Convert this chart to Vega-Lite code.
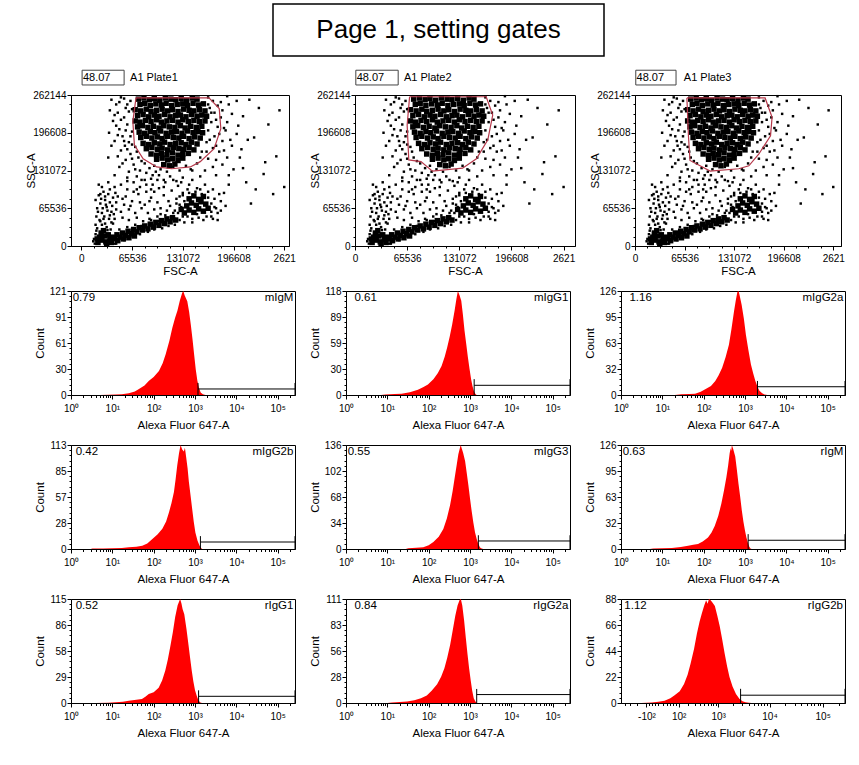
{
"$schema": "https://vega.github.io/schema/vega-lite/v6.json",
"background": "white",
"padding": {"left": 24, "top": 3, "right": 5, "bottom": 5},
"config": {
 "font": "Liberation Sans Narrow, Liberation Sans, Arial, sans-serif",
 "view": {"stroke": "black", "strokeWidth": 1},
 "axis": {"grid": false, "domainColor": "black", "tickColor": "black", "labelColor": "black", "titleColor": "black", "labelFontSize": 10, "titleFontSize": 11.5, "titleFontWeight": "normal", "domainWidth": 1, "tickWidth": 1, "labelPadding": 1, "titlePadding": 1},
 "axisX": {"labelPadding": 4, "titlePadding": 6},
 "text": {"fontSize": 11.5, "color": "black"},
 "rule": {"color": "black"}
},
"datasets": {
 "core": [
  {"f":72,"s":249},{"f":79,"s":251},{"f":86,"s":248},{"f":92,"s":250},{"f":99,"s":247},{"f":106,"s":251},{"f":113,"s":249},{"f":119,"s":248},{"f":126,"s":250},{"f":133,"s":247},{"f":140,"s":251},{"f":146,"s":249},
  {"f":74,"s":240},{"f":80,"s":242},{"f":87,"s":238},{"f":94,"s":241},{"f":101,"s":239},{"f":107,"s":242},{"f":114,"s":238},{"f":121,"s":240},{"f":128,"s":241},{"f":134,"s":238},{"f":141,"s":242},{"f":148,"s":239},{"f":154,"s":241},
  {"f":68,"s":231},{"f":75,"s":229},{"f":82,"s":232},{"f":88,"s":228},{"f":95,"s":230},{"f":102,"s":232},{"f":109,"s":229},{"f":115,"s":231},{"f":122,"s":228},{"f":129,"s":232},{"f":136,"s":230},{"f":142,"s":229},{"f":149,"s":231},{"f":156,"s":229},
  {"f":71,"s":221},{"f":78,"s":223},{"f":85,"s":219},{"f":92,"s":222},{"f":98,"s":220},{"f":105,"s":223},{"f":112,"s":219},{"f":119,"s":221},{"f":125,"s":222},{"f":132,"s":219},{"f":139,"s":223},{"f":146,"s":220},{"f":152,"s":222},{"f":158,"s":220},
  {"f":68,"s":212},{"f":74,"s":210},{"f":81,"s":213},{"f":88,"s":211},{"f":95,"s":214},{"f":101,"s":210},{"f":108,"s":212},{"f":115,"s":213},{"f":122,"s":210},{"f":128,"s":214},{"f":135,"s":211},{"f":142,"s":213},{"f":149,"s":211},{"f":156,"s":212},
  {"f":71,"s":202},{"f":77,"s":204},{"f":84,"s":201},{"f":91,"s":203},{"f":98,"s":200},{"f":104,"s":204},{"f":111,"s":202},{"f":118,"s":201},{"f":125,"s":204},{"f":131,"s":200},{"f":138,"s":203},{"f":145,"s":201},{"f":152,"s":203},
  {"f":73,"s":193},{"f":80,"s":191},{"f":87,"s":194},{"f":93,"s":192},{"f":100,"s":195},{"f":107,"s":191},{"f":114,"s":193},{"f":120,"s":194},{"f":127,"s":191},{"f":134,"s":195},{"f":141,"s":192},{"f":147,"s":194},{"f":153,"s":192},
  {"f":75,"s":184},{"f":82,"s":186},{"f":89,"s":183},{"f":96,"s":185},{"f":102,"s":182},{"f":109,"s":186},{"f":116,"s":184},{"f":123,"s":183},{"f":129,"s":186},{"f":136,"s":182},{"f":143,"s":185},{"f":150,"s":183},
  {"f":78,"s":174},{"f":85,"s":172},{"f":92,"s":175},{"f":99,"s":173},{"f":105,"s":176},{"f":112,"s":172},{"f":119,"s":174},{"f":126,"s":175},{"f":132,"s":172},{"f":139,"s":176},{"f":146,"s":173},
  {"f":82,"s":165},{"f":89,"s":167},{"f":96,"s":164},{"f":102,"s":166},{"f":109,"s":163},{"f":116,"s":167},{"f":123,"s":165},{"f":129,"s":164},{"f":136,"s":167},{"f":142,"s":163},
  {"f":88,"s":156},{"f":95,"s":154},{"f":101,"s":157},{"f":108,"s":155},{"f":115,"s":158},{"f":122,"s":154},{"f":128,"s":156},{"f":135,"s":157},
  {"f":95,"s":147},{"f":102,"s":149},{"f":109,"s":146},{"f":115,"s":148},{"f":122,"s":145},{"f":128,"s":149},
  {"f":104,"s":138},{"f":111,"s":136},{"f":118,"s":139},
  {"f":21,"s":6},{"f":26,"s":10},{"f":31,"s":7},{"f":36,"s":11},{"f":23,"s":15},{"f":29,"s":17},{"f":34,"s":19},{"f":39,"s":15},{"f":25,"s":22},{"f":20,"s":12},{"f":32,"s":3},{"f":38,"s":6},{"f":28,"s":26},
  {"f":42,"s":12},{"f":49,"s":15},{"f":56,"s":18},{"f":63,"s":21},{"f":70,"s":24},{"f":77,"s":27},{"f":84,"s":29},{"f":91,"s":32},{"f":98,"s":35},{"f":105,"s":38},{"f":112,"s":41},{"f":119,"s":44},
  {"f":45,"s":19},{"f":52,"s":22},{"f":59,"s":25},{"f":66,"s":28},{"f":73,"s":31},{"f":80,"s":34},{"f":87,"s":37},{"f":94,"s":40},{"f":101,"s":43},{"f":108,"s":46},{"f":115,"s":48},
  {"f":46,"s":9},{"f":53,"s":12},{"f":60,"s":14},{"f":67,"s":17},
  {"f":130,"s":56},{"f":136,"s":61},{"f":142,"s":57},{"f":148,"s":63},{"f":154,"s":59},{"f":133,"s":68},{"f":139,"s":73},{"f":145,"s":69},{"f":151,"s":75},{"f":157,"s":71},{"f":136,"s":80},{"f":142,"s":85},{"f":148,"s":79},{"f":160,"s":64},{"f":126,"s":62},{"f":154,"s":84}
 ],
 "dots": [
  {"f":38,"s":248},{"f":44,"s":240},{"f":50,"s":252},{"f":56,"s":234},{"f":62,"s":246},{"f":46,"s":226},{"f":54,"s":218},{"f":60,"s":228},{"f":40,"s":212},{"f":58,"s":206},{"f":48,"s":198},{"f":64,"s":194},{"f":52,"s":186},{"f":42,"s":178},{"f":60,"s":176},{"f":68,"s":168},{"f":50,"s":162},{"f":62,"s":156},{"f":72,"s":150},{"f":56,"s":146},{"f":66,"s":138},{"f":80,"s":140},{"f":74,"s":128},{"f":60,"s":126},{"f":86,"s":132},{"f":48,"s":134},{"f":70,"s":118},{"f":90,"s":120},{"f":35,"s":192},{"f":55,"s":170},
  {"f":160,"s":252},{"f":166,"s":246},{"f":172,"s":238},{"f":162,"s":234},{"f":168,"s":226},{"f":176,"s":218},{"f":164,"s":210},{"f":172,"s":202},{"f":182,"s":196},{"f":160,"s":196},{"f":168,"s":186},{"f":178,"s":178},{"f":158,"s":176},{"f":166,"s":166},{"f":152,"s":160},{"f":174,"s":160},{"f":160,"s":148},{"f":146,"s":140},{"f":184,"s":150},{"f":166,"s":134},{"f":190,"s":224},{"f":196,"s":246},{"f":184,"s":254},{"f":156,"s":128},{"f":140,"s":128},{"f":198,"s":204},{"f":188,"s":180},{"f":202,"s":164},{"f":176,"s":244},{"f":184,"s":210},
  {"f":92,"s":136},{"f":100,"s":130},{"f":108,"s":126},{"f":116,"s":134},{"f":124,"s":128},{"f":132,"s":136},{"f":138,"s":130},{"f":98,"s":120},{"f":112,"s":118},{"f":128,"s":116},{"f":120,"s":110},{"f":104,"s":112},
  {"f":212,"s":248},{"f":224,"s":234},{"f":236,"s":206},{"f":218,"s":184},{"f":246,"s":152},{"f":230,"s":122},{"f":208,"s":108},{"f":242,"s":88},{"f":214,"s":72},{"f":232,"s":142},{"f":220,"s":96},{"f":204,"s":132},{"f":250,"s":230},{"f":256,"s":100},
  {"f":50,"s":104},{"f":58,"s":96},{"f":66,"s":108},{"f":74,"s":100},{"f":82,"s":92},{"f":90,"s":104},{"f":98,"s":98},{"f":106,"s":108},{"f":114,"s":94},{"f":122,"s":102},{"f":56,"s":84},{"f":64,"s":76},{"f":72,"s":88},{"f":80,"s":70},{"f":88,"s":82},{"f":96,"s":74},{"f":104,"s":86},{"f":112,"s":68},{"f":120,"s":80},{"f":128,"s":90},{"f":60,"s":62},{"f":68,"s":56},{"f":76,"s":64},{"f":84,"s":56},{"f":92,"s":62},{"f":100,"s":54},{"f":108,"s":60},{"f":116,"s":56},{"f":54,"s":70},{"f":96,"s":112},{"f":80,"s":112},{"f":136,"s":104},{"f":146,"s":98},{"f":156,"s":104},{"f":166,"s":96},{"f":174,"s":88},{"f":170,"s":64},{"f":176,"s":76},{"f":164,"s":50},{"f":172,"s":44},{"f":182,"s":68},{"f":186,"s":104},
  {"f":20,"s":30},{"f":26,"s":36},{"f":32,"s":32},{"f":38,"s":40},{"f":23,"s":44},{"f":29,"s":50},{"f":35,"s":46},{"f":41,"s":54},{"f":21,"s":58},{"f":27,"s":64},{"f":33,"s":60},{"f":39,"s":68},{"f":24,"s":72},{"f":30,"s":78},{"f":36,"s":74},{"f":22,"s":86},{"f":28,"s":92},{"f":34,"s":88},{"f":40,"s":82},{"f":26,"s":100},{"f":19,"s":50},{"f":37,"s":28},{"f":31,"s":70},{"f":25,"s":80},{"f":44,"s":62},{"f":43,"s":90},
  {"f":124,"s":44},{"f":128,"s":50},{"f":122,"s":56},{"f":126,"s":66},{"f":130,"s":76},{"f":128,"s":86},{"f":136,"s":90},{"f":144,"s":92},{"f":152,"s":88},{"f":160,"s":82},{"f":164,"s":72},{"f":164,"s":58},{"f":158,"s":50},{"f":148,"s":48},{"f":140,"s":46},{"f":134,"s":50},{"f":146,"s":54},{"f":152,"s":80},{"f":168,"s":66},{"f":118,"s":36},{"f":110,"s":34},{"f":102,"s":30},{"f":92,"s":28},{"f":84,"s":24},{"f":74,"s":20},{"f":62,"s":16},{"f":54,"s":10},{"f":44,"s":4},{"f":48,"s":28},{"f":58,"s":32},{"f":68,"s":36},{"f":78,"s":42},{"f":86,"s":46},{"f":96,"s":50},{"f":106,"s":52},{"f":66,"s":30},{"f":76,"s":34},
  {"f":17,"s":4},{"f":16,"s":12},{"f":18,"s":20},{"f":42,"s":4},{"f":44,"s":8},{"f":19,"s":26},{"f":27,"s":28},{"f":33,"s":27},{"f":15,"s":8},
  {"f":36,"s":230},{"f":42,"s":222},{"f":48,"s":244},{"f":54,"s":250},{"f":58,"s":240},{"f":64,"s":232},{"f":44,"s":204},{"f":50,"s":214},{"f":56,"s":196},{"f":62,"s":186},{"f":46,"s":188},{"f":38,"s":170},{"f":54,"s":178},{"f":64,"s":172},{"f":58,"s":164},{"f":46,"s":152},{"f":70,"s":160},{"f":76,"s":144},{"f":64,"s":148},{"f":52,"s":140},{"f":68,"s":130},{"f":82,"s":124},{"f":94,"s":126},{"f":58,"s":116},{"f":76,"s":112},{"f":88,"s":114},{"f":42,"s":120},{"f":34,"s":150},
  {"f":160,"s":240},{"f":164,"s":226},{"f":170,"s":214},{"f":178,"s":230},{"f":186,"s":240},{"f":180,"s":200},{"f":174,"s":190},{"f":162,"s":180},{"f":170,"s":170},{"f":180,"s":162},{"f":190,"s":170},{"f":158,"s":160},{"f":150,"s":150},{"f":170,"s":146},{"f":178,"s":138},{"f":192,"s":130},{"f":196,"s":190},{"f":204,"s":220},{"f":210,"s":180},{"f":200,"s":150},{"f":186,"s":120},{"f":170,"s":120},{"f":150,"s":118},{"f":140,"s":112},
  {"f":18,"s":36},{"f":24,"s":42},{"f":30,"s":38},{"f":36,"s":52},{"f":42,"s":46},{"f":20,"s":64},{"f":26,"s":56},{"f":32,"s":66},{"f":38,"s":58},{"f":44,"s":74},{"f":18,"s":78},{"f":24,"s":88},{"f":30,"s":84},{"f":36,"s":96},{"f":42,"s":100},{"f":22,"s":104},{"f":34,"s":108},{"f":46,"s":84},{"f":28,"s":46},{"f":40,"s":38},
  {"f":52,"s":48},{"f":60,"s":44},{"f":70,"s":48},{"f":88,"s":44},{"f":98,"s":42},{"f":108,"s":44},{"f":118,"s":46},{"f":50,"s":58},{"f":62,"s":68},{"f":74,"s":74},{"f":86,"s":76},{"f":100,"s":64},{"f":110,"s":76},{"f":124,"s":70},{"f":52,"s":80},{"f":66,"s":92},{"f":82,"s":104},{"f":92,"s":92},{"f":104,"s":100},{"f":116,"s":112},{"f":126,"s":108},{"f":58,"s":110},{"f":70,"s":96},{"f":88,"s":96},
  {"f":118,"s":60},{"f":120,"s":72},{"f":124,"s":84},{"f":134,"s":96},{"f":150,"s":96},{"f":160,"s":92},{"f":168,"s":80},{"f":172,"s":56},{"f":166,"s":46},{"f":154,"s":44},{"f":140,"s":40},{"f":130,"s":40},{"f":176,"s":60},{"f":180,"s":90}
 ],
 "h1": [{"x":5,"c":0},{"x":8,"c":0.3},{"x":12,"c":0.5},{"x":17,"c":1},{"x":25,"c":2},{"x":35,"c":4},{"x":44,"c":7},{"x":60,"c":11},{"x":77,"c":16.6},{"x":100,"c":21},{"x":134,"c":28},{"x":165,"c":37},{"x":195,"c":47.5},{"x":240,"c":63},{"x":282,"c":78},{"x":330,"c":90},{"x":375,"c":98},{"x":430,"c":110},{"x":491,"c":119},{"x":520,"c":121},{"x":560,"c":116},{"x":650,"c":109},{"x":720,"c":97},{"x":790,"c":82},{"x":870,"c":65},{"x":950,"c":47.5},{"x":1040,"c":30},{"x":1140,"c":16.6},{"x":1250,"c":8},{"x":1370,"c":3},{"x":1550,"c":1},{"x":1800,"c":0}],
 "h2": [{"x":7,"c":0},{"x":9,"c":0.5},{"x":15,"c":1},{"x":22,"c":1.5},{"x":35,"c":3},{"x":55,"c":6},{"x":75,"c":9},{"x":96,"c":12},{"x":130,"c":18},{"x":167,"c":25},{"x":205,"c":33},{"x":244,"c":43.5},{"x":280,"c":54},{"x":322,"c":66},{"x":370,"c":80},{"x":424,"c":96},{"x":465,"c":108},{"x":508,"c":118},{"x":560,"c":113},{"x":614,"c":107},{"x":670,"c":92},{"x":737,"c":73},{"x":810,"c":58},{"x":885,"c":43.5},{"x":970,"c":30},{"x":1065,"c":17.5},{"x":1150,"c":10},{"x":1240,"c":4.5},{"x":1340,"c":1.5},{"x":1440,"c":0}],
 "h3": [{"x":20,"c":0},{"x":29,"c":1},{"x":45,"c":1.3},{"x":62,"c":1.6},{"x":85,"c":4},{"x":109,"c":7},{"x":150,"c":11},{"x":191,"c":17},{"x":230,"c":24},{"x":280,"c":33},{"x":340,"c":46},{"x":408,"c":61},{"x":470,"c":80},{"x":540,"c":101},{"x":600,"c":115},{"x":655,"c":125},{"x":700,"c":126},{"x":760,"c":118},{"x":830,"c":109},{"x":940,"c":92},{"x":1050,"c":73},{"x":1200,"c":55},{"x":1390,"c":37},{"x":1580,"c":26},{"x":1780,"c":17},{"x":2000,"c":10},{"x":2230,"c":5},{"x":2600,"c":2},{"x":2960,"c":0.5},{"x":3500,"c":0}],
 "h4": [{"x":3,"c":0},{"x":3.3,"c":0.5},{"x":6,"c":0.5},{"x":10,"c":0.7},{"x":17,"c":1.2},{"x":25,"c":1.8},{"x":38,"c":2.5},{"x":53,"c":3.6},{"x":70,"c":6},{"x":93,"c":11},{"x":125,"c":16},{"x":162,"c":22},{"x":200,"c":30},{"x":235,"c":40},{"x":270,"c":50},{"x":309,"c":62},{"x":340,"c":76},{"x":372,"c":91},{"x":410,"c":104},{"x":447,"c":113},{"x":490,"c":108},{"x":537,"c":106},{"x":570,"c":110},{"x":610,"c":100},{"x":660,"c":88},{"x":710,"c":73},{"x":780,"c":58},{"x":851,"c":44},{"x":930,"c":30},{"x":1020,"c":18},{"x":1150,"c":9},{"x":1290,"c":3.6},{"x":1400,"c":1},{"x":1490,"c":0}],
 "h5": [{"x":28,"c":0},{"x":32,"c":1},{"x":50,"c":1.5},{"x":74,"c":2.2},{"x":100,"c":5},{"x":130,"c":9},{"x":175,"c":16},{"x":226,"c":26},{"x":275,"c":40},{"x":328,"c":57},{"x":380,"c":76},{"x":434,"c":96},{"x":480,"c":111},{"x":522,"c":124},{"x":594,"c":136},{"x":680,"c":126},{"x":760,"c":115},{"x":830,"c":100},{"x":910,"c":84},{"x":1000,"c":66},{"x":1100,"c":49},{"x":1200,"c":35},{"x":1320,"c":22},{"x":1450,"c":13},{"x":1590,"c":6.6},{"x":1750,"c":2},{"x":1910,"c":0.5},{"x":2100,"c":0}],
 "h6": [{"x":5,"c":0},{"x":6,"c":0.5},{"x":10,"c":0.8},{"x":17,"c":1.2},{"x":28,"c":2.5},{"x":42,"c":4},{"x":56,"c":5},{"x":73,"c":6},{"x":95,"c":9},{"x":127,"c":14},{"x":155,"c":20},{"x":185,"c":28},{"x":225,"c":40},{"x":268,"c":55},{"x":310,"c":71},{"x":354,"c":87},{"x":390,"c":101},{"x":425,"c":116},{"x":450,"c":122},{"x":465,"c":119},{"x":480,"c":126},{"x":520,"c":121},{"x":580,"c":112},{"x":635,"c":96},{"x":695,"c":79},{"x":765,"c":63},{"x":835,"c":47},{"x":915,"c":33},{"x":1000,"c":22},{"x":1080,"c":14},{"x":1170,"c":8},{"x":1260,"c":3},{"x":1350,"c":0.5},{"x":1450,"c":0}],
 "h7": [{"x":4,"c":0},{"x":8,"c":0.3},{"x":12,"c":0.7},{"x":18,"c":1.5},{"x":25,"c":2.6},{"x":38,"c":3.5},{"x":52,"c":4.4},{"x":63,"c":7},{"x":76,"c":10},{"x":100,"c":12},{"x":132,"c":17},{"x":160,"c":25},{"x":191,"c":36},{"x":220,"c":48},{"x":251,"c":62},{"x":290,"c":78},{"x":331,"c":95},{"x":380,"c":108},{"x":436,"c":115},{"x":470,"c":110},{"x":500,"c":104},{"x":550,"c":98},{"x":620,"c":82},{"x":692,"c":65},{"x":760,"c":50},{"x":832,"c":36},{"x":910,"c":24},{"x":1000,"c":14},{"x":1100,"c":8},{"x":1200,"c":3.3},{"x":1300,"c":1},{"x":1390,"c":0.3},{"x":1500,"c":0}],
 "h8": [{"x":10,"c":0},{"x":13,"c":0.5},{"x":20,"c":1},{"x":30,"c":1.5},{"x":45,"c":3},{"x":65,"c":5},{"x":90,"c":8},{"x":118,"c":13},{"x":160,"c":20},{"x":200,"c":28},{"x":240,"c":37},{"x":280,"c":48},{"x":330,"c":62},{"x":380,"c":77},{"x":440,"c":93},{"x":500,"c":104},{"x":560,"c":110},{"x":600,"c":111},{"x":650,"c":104},{"x":720,"c":88},{"x":790,"c":70},{"x":870,"c":52},{"x":950,"c":37},{"x":1040,"c":24},{"x":1130,"c":13},{"x":1230,"c":5},{"x":1350,"c":1.5},{"x":1450,"c":0}],
 "h9": [{"x":-150,"c":0},{"x":-60,"c":0.5},{"x":-20,"c":1},{"x":9,"c":2},{"x":40,"c":4},{"x":66,"c":6.3},{"x":110,"c":10},{"x":153,"c":16},{"x":195,"c":24},{"x":234,"c":33},{"x":290,"c":46},{"x":342,"c":59},{"x":395,"c":69},{"x":446,"c":76},{"x":500,"c":82},{"x":555,"c":87},{"x":600,"c":84},{"x":640,"c":88},{"x":697,"c":87},{"x":760,"c":85},{"x":856,"c":82},{"x":960,"c":74},{"x":1080,"c":65},{"x":1210,"c":54},{"x":1356,"c":42},{"x":1520,"c":31},{"x":1696,"c":22},{"x":1950,"c":14},{"x":2276,"c":7.7},{"x":2650,"c":3.5},{"x":3050,"c":1.4},{"x":3500,"c":0.6},{"x":4060,"c":0.3},{"x":4600,"c":0}]
},
"spacing": 8,
"vconcat": [
 {"hconcat": [
  {"width": 201, "height": 57, "view": {"stroke": null}, "data": {"values": [{"t": ""}]}, "mark": "text", "encoding": {"text": {"field": "t"}}},
  {"width": 331, "height": 52, "view": {"stroke": "black", "strokeWidth": 1.5, "fill": "white"}, "data": {"values": [{"t": "Page 1, setting gates"}]}, "mark": {"type": "text", "fontSize": 26, "font": "Liberation Sans, Arial, sans-serif"}, "encoding": {"text": {"field": "t"}}}
 ], "spacing": 0},
 {"hconcat": [
  {"width": 218, "height": 151,
   "layer": [
    {"data": {"name": "dots"}, "mark": {"type": "square", "size": 6, "color": "black", "opacity": 1}, "encoding": {
     "x": {"field": "f", "type": "quantitative", "title": "FSC-A", "scale": {"domain": [-13, 262], "nice": false, "zero": false}, "axis": {"values": [0,16,32,48,64,80,96,112,128,144,160,176,192,208,224,240,256], "tickCount": 100, "labelExpr": "datum.value == 0 ? '0' : datum.value == 64 ? '65536' : datum.value == 128 ? '131072' : datum.value == 192 ? '196608' : datum.value == 256 ? '2621' : ''", "tickSize": {"condition": {"test": "datum.value % 64 == 0", "value": 4}, "value": 2}, "labelFlush": false, "labelOverlap": false, "labelPadding": 3, "titlePadding": 2}},
     "y": {"field": "s", "type": "quantitative", "title": "SSC-A", "scale": {"domain": [0, 256], "nice": false}, "axis": {"values": [0,16,32,48,64,80,96,112,128,144,160,176,192,208,224,240,256], "tickCount": 100, "labelExpr": "datum.value == 0 ? '0' : datum.value == 64 ? '65536' : datum.value == 128 ? '131072' : datum.value == 192 ? '196608' : datum.value == 256 ? '262144' : ''", "tickSize": {"condition": {"test": "datum.value % 64 == 0", "value": 4}, "value": 2}, "labelOverlap": false, "minExtent": 35, "maxExtent": 35, "titlePadding": 0}}}},
    {"data": {"name": "core"}, "mark": {"type": "square", "size": 30, "color": "black", "opacity": 1}, "encoding": {"x": {"field": "f", "type": "quantitative", "title": "FSC-A"}, "y": {"field": "s", "type": "quantitative", "title": "SSC-A"}}},
    {"data": {"values": [{"i":0,"f":69,"s":251},{"i":1,"f":161,"s":251},{"i":2,"f":174,"s":233},{"i":3,"f":176,"s":199},{"i":4,"f":167.5,"s":165},{"i":5,"f":150,"s":143},{"i":6,"f":137.6,"s":134},{"i":7,"f":114,"s":131},{"i":8,"f":95,"s":134},{"i":9,"f":78,"s":148},{"i":10,"f":67,"s":171},{"i":11,"f":65,"s":211},{"i":12,"f":69,"s":251}]}, "mark": {"type": "line", "color": "#b5384a", "strokeWidth": 1.2}, "encoding": {"x": {"field": "f", "type": "quantitative", "title": "FSC-A"}, "y": {"field": "s", "type": "quantitative", "title": "SSC-A"}, "order": {"field": "i", "type": "quantitative"}}},
    {"data": {"values": [{"pct": "48.07", "name": "A1 Plate1", "bx1": 1, "bx2": 54, "by1": 273, "by2": 298, "px": 2, "nx": 61.5, "ty": 285.5}]}, "layer": [
     {"mark": {"type": "rect", "fill": "white", "stroke": "#444444", "strokeWidth": 1}, "encoding": {"x": {"field": "bx1", "type": "quantitative", "title": "FSC-A"}, "x2": {"field": "bx2"}, "y": {"field": "by1", "type": "quantitative", "title": "SSC-A"}, "y2": {"field": "by2"}}},
     {"mark": {"type": "text", "align": "left", "fontSize": 11}, "encoding": {"x": {"field": "px", "type": "quantitative", "title": "FSC-A"}, "y": {"field": "ty", "type": "quantitative", "title": "SSC-A"}, "text": {"field": "pct"}}},
     {"mark": {"type": "text", "align": "left", "fontSize": 11}, "encoding": {"x": {"field": "nx", "type": "quantitative", "title": "FSC-A"}, "y": {"field": "ty", "type": "quantitative", "title": "SSC-A"}, "text": {"field": "name"}}}
    ]}
   ]},
  {"width": 220, "height": 151,
   "layer": [
    {"data": {"name": "dots"}, "mark": {"type": "square", "size": 6, "color": "black", "opacity": 1}, "encoding": {
     "x": {"field": "f", "type": "quantitative", "title": "FSC-A", "scale": {"domain": [0, 270], "nice": false, "zero": false}, "axis": {"values": [0,16,32,48,64,80,96,112,128,144,160,176,192,208,224,240,256], "tickCount": 100, "labelExpr": "datum.value == 0 ? '0' : datum.value == 64 ? '65536' : datum.value == 128 ? '131072' : datum.value == 192 ? '196608' : datum.value == 256 ? '2621' : ''", "tickSize": {"condition": {"test": "datum.value % 64 == 0", "value": 4}, "value": 2}, "labelFlush": false, "labelOverlap": false, "labelPadding": 3, "titlePadding": 2}},
     "y": {"field": "s", "type": "quantitative", "title": "SSC-A", "scale": {"domain": [0, 256], "nice": false}, "axis": {"values": [0,16,32,48,64,80,96,112,128,144,160,176,192,208,224,240,256], "tickCount": 100, "labelExpr": "datum.value == 0 ? '0' : datum.value == 64 ? '65536' : datum.value == 128 ? '131072' : datum.value == 192 ? '196608' : datum.value == 256 ? '262144' : ''", "tickSize": {"condition": {"test": "datum.value % 64 == 0", "value": 4}, "value": 2}, "labelOverlap": false, "minExtent": 35, "maxExtent": 35, "titlePadding": 0}}}},
    {"data": {"name": "core"}, "mark": {"type": "square", "size": 30, "color": "black", "opacity": 1}, "encoding": {"x": {"field": "f", "type": "quantitative", "title": "FSC-A"}, "y": {"field": "s", "type": "quantitative", "title": "SSC-A"}}},
    {"data": {"values": [{"i":0,"f":67,"s":253},{"i":1,"f":161,"s":253},{"i":2,"f":169,"s":222},{"i":3,"f":163,"s":180},{"i":4,"f":149,"s":148},{"i":5,"f":132,"s":132},{"i":6,"f":95,"s":127},{"i":7,"f":81,"s":143},{"i":8,"f":66,"s":146},{"i":9,"f":64,"s":205},{"i":10,"f":67,"s":253}]}, "mark": {"type": "line", "color": "#b5384a", "strokeWidth": 1.2}, "encoding": {"x": {"field": "f", "type": "quantitative", "title": "FSC-A"}, "y": {"field": "s", "type": "quantitative", "title": "SSC-A"}, "order": {"field": "i", "type": "quantitative"}}},
    {"data": {"values": [{"pct": "48.07", "name": "A1 Plate2", "bx1": 1, "bx2": 53, "by1": 273, "by2": 298, "px": 2, "nx": 60, "ty": 285.5}]}, "layer": [
     {"mark": {"type": "rect", "fill": "white", "stroke": "#444444", "strokeWidth": 1}, "encoding": {"x": {"field": "bx1", "type": "quantitative", "title": "FSC-A"}, "x2": {"field": "bx2"}, "y": {"field": "by1", "type": "quantitative", "title": "SSC-A"}, "y2": {"field": "by2"}}},
     {"mark": {"type": "text", "align": "left", "fontSize": 11}, "encoding": {"x": {"field": "px", "type": "quantitative", "title": "FSC-A"}, "y": {"field": "ty", "type": "quantitative", "title": "SSC-A"}, "text": {"field": "pct"}}},
     {"mark": {"type": "text", "align": "left", "fontSize": 11}, "encoding": {"x": {"field": "nx", "type": "quantitative", "title": "FSC-A"}, "y": {"field": "ty", "type": "quantitative", "title": "SSC-A"}, "text": {"field": "name"}}}
    ]}
   ]},
  {"width": 206, "height": 151,
   "layer": [
    {"data": {"name": "dots"}, "mark": {"type": "square", "size": 6, "color": "black", "opacity": 1}, "encoding": {
     "x": {"field": "f", "type": "quantitative", "title": "FSC-A", "scale": {"domain": [0, 266], "nice": false, "zero": false}, "axis": {"values": [0,16,32,48,64,80,96,112,128,144,160,176,192,208,224,240,256], "tickCount": 100, "labelExpr": "datum.value == 0 ? '0' : datum.value == 64 ? '65536' : datum.value == 128 ? '131072' : datum.value == 192 ? '196608' : datum.value == 256 ? '2621' : ''", "tickSize": {"condition": {"test": "datum.value % 64 == 0", "value": 4}, "value": 2}, "labelFlush": false, "labelOverlap": false, "labelPadding": 3, "titlePadding": 2}},
     "y": {"field": "s", "type": "quantitative", "title": "SSC-A", "scale": {"domain": [0, 256], "nice": false}, "axis": {"values": [0,16,32,48,64,80,96,112,128,144,160,176,192,208,224,240,256], "tickCount": 100, "labelExpr": "datum.value == 0 ? '0' : datum.value == 64 ? '65536' : datum.value == 128 ? '131072' : datum.value == 192 ? '196608' : datum.value == 256 ? '262144' : ''", "tickSize": {"condition": {"test": "datum.value % 64 == 0", "value": 4}, "value": 2}, "labelOverlap": false, "minExtent": 35, "maxExtent": 35, "titlePadding": 0}}}},
    {"data": {"name": "core"}, "mark": {"type": "square", "size": 30, "color": "black", "opacity": 1}, "encoding": {"x": {"field": "f", "type": "quantitative", "title": "FSC-A"}, "y": {"field": "s", "type": "quantitative", "title": "SSC-A"}}},
    {"data": {"values": [{"i":0,"f":67,"s":251},{"i":1,"f":168,"s":251},{"i":2,"f":177,"s":218},{"i":3,"f":175,"s":187},{"i":4,"f":160,"s":156},{"i":5,"f":147,"s":136},{"i":6,"f":134,"s":131},{"i":7,"f":97,"s":127},{"i":8,"f":84,"s":136},{"i":9,"f":71,"s":145},{"i":10,"f":69,"s":187},{"i":11,"f":67,"s":251}]}, "mark": {"type": "line", "color": "#b5384a", "strokeWidth": 1.2}, "encoding": {"x": {"field": "f", "type": "quantitative", "title": "FSC-A"}, "y": {"field": "s", "type": "quantitative", "title": "SSC-A"}, "order": {"field": "i", "type": "quantitative"}}},
    {"data": {"values": [{"pct": "48.07", "name": "A1 Plate3", "bx1": 1, "bx2": 53, "by1": 273, "by2": 298, "px": 2, "nx": 63, "ty": 285.5}]}, "layer": [
     {"mark": {"type": "rect", "fill": "white", "stroke": "#444444", "strokeWidth": 1}, "encoding": {"x": {"field": "bx1", "type": "quantitative", "title": "FSC-A"}, "x2": {"field": "bx2"}, "y": {"field": "by1", "type": "quantitative", "title": "SSC-A"}, "y2": {"field": "by2"}}},
     {"mark": {"type": "text", "align": "left", "fontSize": 11}, "encoding": {"x": {"field": "px", "type": "quantitative", "title": "FSC-A"}, "y": {"field": "ty", "type": "quantitative", "title": "SSC-A"}, "text": {"field": "pct"}}},
     {"mark": {"type": "text", "align": "left", "fontSize": 11}, "encoding": {"x": {"field": "nx", "type": "quantitative", "title": "FSC-A"}, "y": {"field": "ty", "type": "quantitative", "title": "SSC-A"}, "text": {"field": "name"}}}
    ]}
   ]}
 ], "spacing": 12},
 {"hconcat": [
  {"width": 224, "height": 104, "layer": [
   {"data": {"name": "h1"}, "mark": {"type": "area", "color": "#ff0000"}, "encoding": {
    "x": {"field": "x", "type": "quantitative", "title": "Alexa Fluor 647-A", "scale": {"type": "log", "domain": [1, 262144], "nice": false}, "axis": {"values": [1,2,3,4,5,6,7,8,9,10,20,30,40,50,60,70,80,90,100,200,300,400,500,600,700,800,900,1000,2000,3000,4000,5000,6000,7000,8000,9000,10000,20000,30000,40000,50000,60000,70000,80000,90000,100000,200000], "tickCount": 100, "labelExpr": "datum.value == 1 ? '10⁰' : datum.value == 10 ? '10¹' : datum.value == 100 ? '10²' : datum.value == 1000 ? '10³' : datum.value == 10000 ? '10⁴' : datum.value == 100000 ? '10⁵' : ''", "tickSize": {"condition": {"test": "indexof([1,10,100,1000,10000,100000], datum.value) >= 0", "value": 4}, "value": 2.5}, "labelFlush": false, "labelOverlap": false}},
    "y": {"field": "c", "type": "quantitative", "title": "Count", "scale": {"domain": [0, 121], "nice": false}, "axis": {"values": [0,6.05,12.1,18.15,24.2,30.25,36.3,42.35,48.4,54.45,60.5,66.55,72.6,78.65,84.7,90.75,96.8,102.85,108.9,114.95,121], "tickCount": 100, "labelExpr": "abs(datum.value*4/121 - round(datum.value*4/121)) < 0.01 ? '' + round(datum.value) : ''", "tickSize": {"condition": {"test": "abs(datum.value*4/121 - round(datum.value*4/121)) < 0.01", "value": 4}, "value": 2}, "labelOverlap": false, "minExtent": 24, "maxExtent": 24, "titlePadding": 2}}}},
   {"data": {"values": [{"lo": 1180, "hi": 262144, "bot": 0, "lvl": 7, "top": 14, "xl": 1.1, "xr": 240000, "ty": 113, "pct": "0.79", "name": "mIgM"}]}, "layer": [
    {"mark": "rule", "encoding": {"x": {"field": "lo", "type": "quantitative", "title": "Alexa Fluor 647-A"}, "x2": {"field": "hi"}, "y": {"field": "lvl", "type": "quantitative", "title": "Count"}}},
    {"mark": "rule", "encoding": {"x": {"field": "lo", "type": "quantitative", "title": "Alexa Fluor 647-A"}, "y": {"field": "bot", "type": "quantitative", "title": "Count"}, "y2": {"field": "top"}}},
    {"mark": "rule", "encoding": {"x": {"field": "hi", "type": "quantitative", "title": "Alexa Fluor 647-A"}, "y": {"field": "bot", "type": "quantitative", "title": "Count"}, "y2": {"field": "top"}}},
    {"mark": {"type": "text", "align": "left"}, "encoding": {"x": {"field": "xl", "type": "quantitative", "title": "Alexa Fluor 647-A"}, "y": {"field": "ty", "type": "quantitative", "title": "Count"}, "text": {"field": "pct"}}},
    {"mark": {"type": "text", "align": "right"}, "encoding": {"x": {"field": "xr", "type": "quantitative", "title": "Alexa Fluor 647-A"}, "y": {"field": "ty", "type": "quantitative", "title": "Count"}, "text": {"field": "name"}}}
   ]}
  ]},
  {"width": 224, "height": 104, "layer": [
   {"data": {"name": "h2"}, "mark": {"type": "area", "color": "#ff0000"}, "encoding": {
    "x": {"field": "x", "type": "quantitative", "title": "Alexa Fluor 647-A", "scale": {"type": "log", "domain": [1, 262144], "nice": false}, "axis": {"values": [1,2,3,4,5,6,7,8,9,10,20,30,40,50,60,70,80,90,100,200,300,400,500,600,700,800,900,1000,2000,3000,4000,5000,6000,7000,8000,9000,10000,20000,30000,40000,50000,60000,70000,80000,90000,100000,200000], "tickCount": 100, "labelExpr": "datum.value == 1 ? '10⁰' : datum.value == 10 ? '10¹' : datum.value == 100 ? '10²' : datum.value == 1000 ? '10³' : datum.value == 10000 ? '10⁴' : datum.value == 100000 ? '10⁵' : ''", "tickSize": {"condition": {"test": "indexof([1,10,100,1000,10000,100000], datum.value) >= 0", "value": 4}, "value": 2.5}, "labelFlush": false, "labelOverlap": false}},
    "y": {"field": "c", "type": "quantitative", "title": "Count", "scale": {"domain": [0, 118], "nice": false}, "axis": {"values": [0,5.9,11.8,17.7,23.6,29.5,35.4,41.3,47.2,53.1,59,64.9,70.8,76.7,82.6,88.5,94.4,100.3,106.2,112.1,118], "tickCount": 100, "labelExpr": "abs(datum.value*4/118 - round(datum.value*4/118)) < 0.01 ? '' + round(datum.value) : ''", "tickSize": {"condition": {"test": "abs(datum.value*4/118 - round(datum.value*4/118)) < 0.01", "value": 4}, "value": 2}, "labelOverlap": false, "minExtent": 24, "maxExtent": 24, "titlePadding": 2}}}},
   {"data": {"values": [{"lo": 1260, "hi": 262144, "bot": 0, "lvl": 11, "top": 18, "xl": 1.6, "xr": 240000, "ty": 110, "pct": "0.61", "name": "mIgG1"}]}, "layer": [
    {"mark": "rule", "encoding": {"x": {"field": "lo", "type": "quantitative", "title": "Alexa Fluor 647-A"}, "x2": {"field": "hi"}, "y": {"field": "lvl", "type": "quantitative", "title": "Count"}}},
    {"mark": "rule", "encoding": {"x": {"field": "lo", "type": "quantitative", "title": "Alexa Fluor 647-A"}, "y": {"field": "bot", "type": "quantitative", "title": "Count"}, "y2": {"field": "top"}}},
    {"mark": "rule", "encoding": {"x": {"field": "hi", "type": "quantitative", "title": "Alexa Fluor 647-A"}, "y": {"field": "bot", "type": "quantitative", "title": "Count"}, "y2": {"field": "top"}}},
    {"mark": {"type": "text", "align": "left"}, "encoding": {"x": {"field": "xl", "type": "quantitative", "title": "Alexa Fluor 647-A"}, "y": {"field": "ty", "type": "quantitative", "title": "Count"}, "text": {"field": "pct"}}},
    {"mark": {"type": "text", "align": "right"}, "encoding": {"x": {"field": "xr", "type": "quantitative", "title": "Alexa Fluor 647-A"}, "y": {"field": "ty", "type": "quantitative", "title": "Count"}, "text": {"field": "name"}}}
   ]}
  ]},
  {"width": 224, "height": 104, "layer": [
   {"data": {"name": "h3"}, "mark": {"type": "area", "color": "#ff0000"}, "encoding": {
    "x": {"field": "x", "type": "quantitative", "title": "Alexa Fluor 647-A", "scale": {"type": "log", "domain": [1, 262144], "nice": false}, "axis": {"values": [1,2,3,4,5,6,7,8,9,10,20,30,40,50,60,70,80,90,100,200,300,400,500,600,700,800,900,1000,2000,3000,4000,5000,6000,7000,8000,9000,10000,20000,30000,40000,50000,60000,70000,80000,90000,100000,200000], "tickCount": 100, "labelExpr": "datum.value == 1 ? '10⁰' : datum.value == 10 ? '10¹' : datum.value == 100 ? '10²' : datum.value == 1000 ? '10³' : datum.value == 10000 ? '10⁴' : datum.value == 100000 ? '10⁵' : ''", "tickSize": {"condition": {"test": "indexof([1,10,100,1000,10000,100000], datum.value) >= 0", "value": 4}, "value": 2.5}, "labelFlush": false, "labelOverlap": false}},
    "y": {"field": "c", "type": "quantitative", "title": "Count", "scale": {"domain": [0, 126], "nice": false}, "axis": {"values": [0,6.3,12.6,18.9,25.2,31.5,37.8,44.1,50.4,56.7,63,69.3,75.6,81.9,88.2,94.5,100.8,107.1,113.4,119.7,126], "tickCount": 100, "labelExpr": "abs(datum.value*4/126 - round(datum.value*4/126)) < 0.01 ? '' + round(datum.value) : ''", "tickSize": {"condition": {"test": "abs(datum.value*4/126 - round(datum.value*4/126)) < 0.01", "value": 4}, "value": 2}, "labelOverlap": false, "minExtent": 24, "maxExtent": 24, "titlePadding": 2}}}},
   {"data": {"values": [{"lo": 2000, "hi": 262144, "bot": 0, "lvl": 10, "top": 17, "xl": 1.6, "xr": 240000, "ty": 118, "pct": "1.16", "name": "mIgG2a"}]}, "layer": [
    {"mark": "rule", "encoding": {"x": {"field": "lo", "type": "quantitative", "title": "Alexa Fluor 647-A"}, "x2": {"field": "hi"}, "y": {"field": "lvl", "type": "quantitative", "title": "Count"}}},
    {"mark": "rule", "encoding": {"x": {"field": "lo", "type": "quantitative", "title": "Alexa Fluor 647-A"}, "y": {"field": "bot", "type": "quantitative", "title": "Count"}, "y2": {"field": "top"}}},
    {"mark": "rule", "encoding": {"x": {"field": "hi", "type": "quantitative", "title": "Alexa Fluor 647-A"}, "y": {"field": "bot", "type": "quantitative", "title": "Count"}, "y2": {"field": "top"}}},
    {"mark": {"type": "text", "align": "left"}, "encoding": {"x": {"field": "xl", "type": "quantitative", "title": "Alexa Fluor 647-A"}, "y": {"field": "ty", "type": "quantitative", "title": "Count"}, "text": {"field": "pct"}}},
    {"mark": {"type": "text", "align": "right"}, "encoding": {"x": {"field": "xr", "type": "quantitative", "title": "Alexa Fluor 647-A"}, "y": {"field": "ty", "type": "quantitative", "title": "Count"}, "text": {"field": "name"}}}
   ]}
  ]}
 ], "spacing": 12},
 {"hconcat": [
  {"width": 224, "height": 104, "layer": [
   {"data": {"name": "h4"}, "mark": {"type": "area", "color": "#ff0000"}, "encoding": {
    "x": {"field": "x", "type": "quantitative", "title": "Alexa Fluor 647-A", "scale": {"type": "log", "domain": [1, 262144], "nice": false}, "axis": {"values": [1,2,3,4,5,6,7,8,9,10,20,30,40,50,60,70,80,90,100,200,300,400,500,600,700,800,900,1000,2000,3000,4000,5000,6000,7000,8000,9000,10000,20000,30000,40000,50000,60000,70000,80000,90000,100000,200000], "tickCount": 100, "labelExpr": "datum.value == 1 ? '10⁰' : datum.value == 10 ? '10¹' : datum.value == 100 ? '10²' : datum.value == 1000 ? '10³' : datum.value == 10000 ? '10⁴' : datum.value == 100000 ? '10⁵' : ''", "tickSize": {"condition": {"test": "indexof([1,10,100,1000,10000,100000], datum.value) >= 0", "value": 4}, "value": 2.5}, "labelFlush": false, "labelOverlap": false}},
    "y": {"field": "c", "type": "quantitative", "title": "Count", "scale": {"domain": [0, 113], "nice": false}, "axis": {"values": [0,5.65,11.3,16.95,22.6,28.25,33.9,39.55,45.2,50.85,56.5,62.15,67.8,73.45,79.1,84.75,90.4,96.05,101.7,107.35,113], "tickCount": 100, "labelExpr": "abs(datum.value*4/113 - round(datum.value*4/113)) < 0.01 ? '' + round(datum.value) : ''", "tickSize": {"condition": {"test": "abs(datum.value*4/113 - round(datum.value*4/113)) < 0.01", "value": 4}, "value": 2}, "labelOverlap": false, "minExtent": 24, "maxExtent": 24, "titlePadding": 2}}}},
   {"data": {"values": [{"lo": 1350, "hi": 262144, "bot": 0, "lvl": 7.6, "top": 14, "xl": 1.3, "xr": 240000, "ty": 105.5, "pct": "0.42", "name": "mIgG2b"}]}, "layer": [
    {"mark": "rule", "encoding": {"x": {"field": "lo", "type": "quantitative", "title": "Alexa Fluor 647-A"}, "x2": {"field": "hi"}, "y": {"field": "lvl", "type": "quantitative", "title": "Count"}}},
    {"mark": "rule", "encoding": {"x": {"field": "lo", "type": "quantitative", "title": "Alexa Fluor 647-A"}, "y": {"field": "bot", "type": "quantitative", "title": "Count"}, "y2": {"field": "top"}}},
    {"mark": "rule", "encoding": {"x": {"field": "hi", "type": "quantitative", "title": "Alexa Fluor 647-A"}, "y": {"field": "bot", "type": "quantitative", "title": "Count"}, "y2": {"field": "top"}}},
    {"mark": {"type": "text", "align": "left"}, "encoding": {"x": {"field": "xl", "type": "quantitative", "title": "Alexa Fluor 647-A"}, "y": {"field": "ty", "type": "quantitative", "title": "Count"}, "text": {"field": "pct"}}},
    {"mark": {"type": "text", "align": "right"}, "encoding": {"x": {"field": "xr", "type": "quantitative", "title": "Alexa Fluor 647-A"}, "y": {"field": "ty", "type": "quantitative", "title": "Count"}, "text": {"field": "name"}}}
   ]}
  ]},
  {"width": 224, "height": 104, "layer": [
   {"data": {"name": "h5"}, "mark": {"type": "area", "color": "#ff0000"}, "encoding": {
    "x": {"field": "x", "type": "quantitative", "title": "Alexa Fluor 647-A", "scale": {"type": "log", "domain": [1, 262144], "nice": false}, "axis": {"values": [1,2,3,4,5,6,7,8,9,10,20,30,40,50,60,70,80,90,100,200,300,400,500,600,700,800,900,1000,2000,3000,4000,5000,6000,7000,8000,9000,10000,20000,30000,40000,50000,60000,70000,80000,90000,100000,200000], "tickCount": 100, "labelExpr": "datum.value == 1 ? '10⁰' : datum.value == 10 ? '10¹' : datum.value == 100 ? '10²' : datum.value == 1000 ? '10³' : datum.value == 10000 ? '10⁴' : datum.value == 100000 ? '10⁵' : ''", "tickSize": {"condition": {"test": "indexof([1,10,100,1000,10000,100000], datum.value) >= 0", "value": 4}, "value": 2.5}, "labelFlush": false, "labelOverlap": false}},
    "y": {"field": "c", "type": "quantitative", "title": "Count", "scale": {"domain": [0, 136], "nice": false}, "axis": {"values": [0,6.8,13.6,20.4,27.2,34,40.8,47.6,54.4,61.2,68,74.8,81.6,88.4,95.2,102,108.8,115.6,122.4,129.2,136], "tickCount": 100, "labelExpr": "abs(datum.value*4/136 - round(datum.value*4/136)) < 0.01 ? '' + round(datum.value) : ''", "tickSize": {"condition": {"test": "abs(datum.value*4/136 - round(datum.value*4/136)) < 0.01", "value": 4}, "value": 2}, "labelOverlap": false, "minExtent": 24, "maxExtent": 24, "titlePadding": 2}}}},
   {"data": {"values": [{"lo": 1590, "hi": 262144, "bot": 0, "lvl": 10.5, "top": 18, "xl": 1.1, "xr": 240000, "ty": 127, "pct": "0.55", "name": "mIgG3"}]}, "layer": [
    {"mark": "rule", "encoding": {"x": {"field": "lo", "type": "quantitative", "title": "Alexa Fluor 647-A"}, "x2": {"field": "hi"}, "y": {"field": "lvl", "type": "quantitative", "title": "Count"}}},
    {"mark": "rule", "encoding": {"x": {"field": "lo", "type": "quantitative", "title": "Alexa Fluor 647-A"}, "y": {"field": "bot", "type": "quantitative", "title": "Count"}, "y2": {"field": "top"}}},
    {"mark": "rule", "encoding": {"x": {"field": "hi", "type": "quantitative", "title": "Alexa Fluor 647-A"}, "y": {"field": "bot", "type": "quantitative", "title": "Count"}, "y2": {"field": "top"}}},
    {"mark": {"type": "text", "align": "left"}, "encoding": {"x": {"field": "xl", "type": "quantitative", "title": "Alexa Fluor 647-A"}, "y": {"field": "ty", "type": "quantitative", "title": "Count"}, "text": {"field": "pct"}}},
    {"mark": {"type": "text", "align": "right"}, "encoding": {"x": {"field": "xr", "type": "quantitative", "title": "Alexa Fluor 647-A"}, "y": {"field": "ty", "type": "quantitative", "title": "Count"}, "text": {"field": "name"}}}
   ]}
  ]},
  {"width": 224, "height": 104, "layer": [
   {"data": {"name": "h6"}, "mark": {"type": "area", "color": "#ff0000"}, "encoding": {
    "x": {"field": "x", "type": "quantitative", "title": "Alexa Fluor 647-A", "scale": {"type": "log", "domain": [1, 262144], "nice": false}, "axis": {"values": [1,2,3,4,5,6,7,8,9,10,20,30,40,50,60,70,80,90,100,200,300,400,500,600,700,800,900,1000,2000,3000,4000,5000,6000,7000,8000,9000,10000,20000,30000,40000,50000,60000,70000,80000,90000,100000,200000], "tickCount": 100, "labelExpr": "datum.value == 1 ? '10⁰' : datum.value == 10 ? '10¹' : datum.value == 100 ? '10²' : datum.value == 1000 ? '10³' : datum.value == 10000 ? '10⁴' : datum.value == 100000 ? '10⁵' : ''", "tickSize": {"condition": {"test": "indexof([1,10,100,1000,10000,100000], datum.value) >= 0", "value": 4}, "value": 2.5}, "labelFlush": false, "labelOverlap": false}},
    "y": {"field": "c", "type": "quantitative", "title": "Count", "scale": {"domain": [0, 126], "nice": false}, "axis": {"values": [0,6.3,12.6,18.9,25.2,31.5,37.8,44.1,50.4,56.7,63,69.3,75.6,81.9,88.2,94.5,100.8,107.1,113.4,119.7,126], "tickCount": 100, "labelExpr": "abs(datum.value*4/126 - round(datum.value*4/126)) < 0.01 ? '' + round(datum.value) : ''", "tickSize": {"condition": {"test": "abs(datum.value*4/126 - round(datum.value*4/126)) < 0.01", "value": 4}, "value": 2}, "labelOverlap": false, "minExtent": 24, "maxExtent": 24, "titlePadding": 2}}}},
   {"data": {"values": [{"lo": 1190, "hi": 262144, "bot": 0, "lvl": 10.6, "top": 18, "xl": 1.1, "xr": 240000, "ty": 118, "pct": "0.63", "name": "rIgM"}]}, "layer": [
    {"mark": "rule", "encoding": {"x": {"field": "lo", "type": "quantitative", "title": "Alexa Fluor 647-A"}, "x2": {"field": "hi"}, "y": {"field": "lvl", "type": "quantitative", "title": "Count"}}},
    {"mark": "rule", "encoding": {"x": {"field": "lo", "type": "quantitative", "title": "Alexa Fluor 647-A"}, "y": {"field": "bot", "type": "quantitative", "title": "Count"}, "y2": {"field": "top"}}},
    {"mark": "rule", "encoding": {"x": {"field": "hi", "type": "quantitative", "title": "Alexa Fluor 647-A"}, "y": {"field": "bot", "type": "quantitative", "title": "Count"}, "y2": {"field": "top"}}},
    {"mark": {"type": "text", "align": "left"}, "encoding": {"x": {"field": "xl", "type": "quantitative", "title": "Alexa Fluor 647-A"}, "y": {"field": "ty", "type": "quantitative", "title": "Count"}, "text": {"field": "pct"}}},
    {"mark": {"type": "text", "align": "right"}, "encoding": {"x": {"field": "xr", "type": "quantitative", "title": "Alexa Fluor 647-A"}, "y": {"field": "ty", "type": "quantitative", "title": "Count"}, "text": {"field": "name"}}}
   ]}
  ]}
 ], "spacing": 12},
 {"hconcat": [
  {"width": 224, "height": 104, "layer": [
   {"data": {"name": "h7"}, "mark": {"type": "area", "color": "#ff0000"}, "encoding": {
    "x": {"field": "x", "type": "quantitative", "title": "Alexa Fluor 647-A", "scale": {"type": "log", "domain": [1, 262144], "nice": false}, "axis": {"values": [1,2,3,4,5,6,7,8,9,10,20,30,40,50,60,70,80,90,100,200,300,400,500,600,700,800,900,1000,2000,3000,4000,5000,6000,7000,8000,9000,10000,20000,30000,40000,50000,60000,70000,80000,90000,100000,200000], "tickCount": 100, "labelExpr": "datum.value == 1 ? '10⁰' : datum.value == 10 ? '10¹' : datum.value == 100 ? '10²' : datum.value == 1000 ? '10³' : datum.value == 10000 ? '10⁴' : datum.value == 100000 ? '10⁵' : ''", "tickSize": {"condition": {"test": "indexof([1,10,100,1000,10000,100000], datum.value) >= 0", "value": 4}, "value": 2.5}, "labelFlush": false, "labelOverlap": false}},
    "y": {"field": "c", "type": "quantitative", "title": "Count", "scale": {"domain": [0, 115], "nice": false}, "axis": {"values": [0,5.75,11.5,17.25,23,28.75,34.5,40.25,46,51.75,57.5,63.25,69,74.75,80.5,86.25,92,97.75,103.5,109.25,115], "tickCount": 100, "labelExpr": "abs(datum.value*4/115 - round(datum.value*4/115)) < 0.01 ? '' + round(datum.value) : ''", "tickSize": {"condition": {"test": "abs(datum.value*4/115 - round(datum.value*4/115)) < 0.01", "value": 4}, "value": 2}, "labelOverlap": false, "minExtent": 24, "maxExtent": 24, "titlePadding": 2}}}},
   {"data": {"values": [{"lo": 1220, "hi": 262144, "bot": 0, "lvl": 7.4, "top": 14, "xl": 1.3, "xr": 240000, "ty": 107.5, "pct": "0.52", "name": "rIgG1"}]}, "layer": [
    {"mark": "rule", "encoding": {"x": {"field": "lo", "type": "quantitative", "title": "Alexa Fluor 647-A"}, "x2": {"field": "hi"}, "y": {"field": "lvl", "type": "quantitative", "title": "Count"}}},
    {"mark": "rule", "encoding": {"x": {"field": "lo", "type": "quantitative", "title": "Alexa Fluor 647-A"}, "y": {"field": "bot", "type": "quantitative", "title": "Count"}, "y2": {"field": "top"}}},
    {"mark": "rule", "encoding": {"x": {"field": "hi", "type": "quantitative", "title": "Alexa Fluor 647-A"}, "y": {"field": "bot", "type": "quantitative", "title": "Count"}, "y2": {"field": "top"}}},
    {"mark": {"type": "text", "align": "left"}, "encoding": {"x": {"field": "xl", "type": "quantitative", "title": "Alexa Fluor 647-A"}, "y": {"field": "ty", "type": "quantitative", "title": "Count"}, "text": {"field": "pct"}}},
    {"mark": {"type": "text", "align": "right"}, "encoding": {"x": {"field": "xr", "type": "quantitative", "title": "Alexa Fluor 647-A"}, "y": {"field": "ty", "type": "quantitative", "title": "Count"}, "text": {"field": "name"}}}
   ]}
  ]},
  {"width": 224, "height": 104, "layer": [
   {"data": {"name": "h8"}, "mark": {"type": "area", "color": "#ff0000"}, "encoding": {
    "x": {"field": "x", "type": "quantitative", "title": "Alexa Fluor 647-A", "scale": {"type": "log", "domain": [1, 262144], "nice": false}, "axis": {"values": [1,2,3,4,5,6,7,8,9,10,20,30,40,50,60,70,80,90,100,200,300,400,500,600,700,800,900,1000,2000,3000,4000,5000,6000,7000,8000,9000,10000,20000,30000,40000,50000,60000,70000,80000,90000,100000,200000], "tickCount": 100, "labelExpr": "datum.value == 1 ? '10⁰' : datum.value == 10 ? '10¹' : datum.value == 100 ? '10²' : datum.value == 1000 ? '10³' : datum.value == 10000 ? '10⁴' : datum.value == 100000 ? '10⁵' : ''", "tickSize": {"condition": {"test": "indexof([1,10,100,1000,10000,100000], datum.value) >= 0", "value": 4}, "value": 2.5}, "labelFlush": false, "labelOverlap": false}},
    "y": {"field": "c", "type": "quantitative", "title": "Count", "scale": {"domain": [0, 111], "nice": false}, "axis": {"values": [0,5.55,11.1,16.65,22.2,27.75,33.3,38.85,44.4,49.95,55.5,61.05,66.6,72.15,77.7,83.25,88.8,94.35,99.9,105.45,111], "tickCount": 100, "labelExpr": "abs(datum.value*4/111 - round(datum.value*4/111)) < 0.01 ? '' + round(datum.value) : ''", "tickSize": {"condition": {"test": "abs(datum.value*4/111 - round(datum.value*4/111)) < 0.01", "value": 4}, "value": 2}, "labelOverlap": false, "minExtent": 24, "maxExtent": 24, "titlePadding": 2}}}},
   {"data": {"values": [{"lo": 1450, "hi": 262144, "bot": 0, "lvl": 9, "top": 15, "xl": 1.6, "xr": 240000, "ty": 104, "pct": "0.84", "name": "rIgG2a"}]}, "layer": [
    {"mark": "rule", "encoding": {"x": {"field": "lo", "type": "quantitative", "title": "Alexa Fluor 647-A"}, "x2": {"field": "hi"}, "y": {"field": "lvl", "type": "quantitative", "title": "Count"}}},
    {"mark": "rule", "encoding": {"x": {"field": "lo", "type": "quantitative", "title": "Alexa Fluor 647-A"}, "y": {"field": "bot", "type": "quantitative", "title": "Count"}, "y2": {"field": "top"}}},
    {"mark": "rule", "encoding": {"x": {"field": "hi", "type": "quantitative", "title": "Alexa Fluor 647-A"}, "y": {"field": "bot", "type": "quantitative", "title": "Count"}, "y2": {"field": "top"}}},
    {"mark": {"type": "text", "align": "left"}, "encoding": {"x": {"field": "xl", "type": "quantitative", "title": "Alexa Fluor 647-A"}, "y": {"field": "ty", "type": "quantitative", "title": "Count"}, "text": {"field": "pct"}}},
    {"mark": {"type": "text", "align": "right"}, "encoding": {"x": {"field": "xr", "type": "quantitative", "title": "Alexa Fluor 647-A"}, "y": {"field": "ty", "type": "quantitative", "title": "Count"}, "text": {"field": "name"}}}
   ]}
  ]},
  {"width": 224, "height": 104, "layer": [
   {"data": {"name": "h9"}, "mark": {"type": "area", "color": "#ff0000"}, "encoding": {
    "x": {"field": "x", "type": "quantitative", "title": "Alexa Fluor 647-A", "scale": {"type": "symlog", "constant": 100, "domain": [-500, 262144], "nice": false}, "axis": {"values": [-400,-300,-200,-100,-80,-60,-40,-20,0,20,40,60,80,100,200,300,400,500,600,700,800,900,1000,2000,3000,4000,5000,6000,7000,8000,9000,10000,20000,30000,40000,50000,60000,70000,80000,90000,100000,200000], "tickCount": 100, "labelExpr": "datum.value == -100 ? '-10²' : datum.value == 100 ? '10²' : datum.value == 1000 ? '10³' : datum.value == 10000 ? '10⁴' : datum.value == 100000 ? '10⁵' : ''", "tickSize": {"condition": {"test": "indexof([-100,100,1000,10000,100000], datum.value) >= 0", "value": 4}, "value": 2.5}, "labelFlush": false, "labelOverlap": false}},
    "y": {"field": "c", "type": "quantitative", "title": "Count", "scale": {"domain": [0, 88], "nice": false}, "axis": {"values": [0,4.4,8.8,13.2,17.6,22,26.4,30.8,35.2,39.6,44,48.4,52.8,57.2,61.6,66,70.4,74.8,79.2,83.6,88], "tickCount": 100, "labelExpr": "abs(datum.value*4/88 - round(datum.value*4/88)) < 0.01 ? '' + round(datum.value) : ''", "tickSize": {"condition": {"test": "abs(datum.value*4/88 - round(datum.value*4/88)) < 0.01", "value": 4}, "value": 2}, "labelOverlap": false, "minExtent": 24, "maxExtent": 24, "titlePadding": 2}}}},
   {"data": {"values": [{"lo": 2800, "hi": 262144, "bot": 0, "lvl": 6.6, "top": 12, "xl": -420, "xr": 240000, "ty": 82, "pct": "1.12", "name": "rIgG2b"}]}, "layer": [
    {"mark": "rule", "encoding": {"x": {"field": "lo", "type": "quantitative", "title": "Alexa Fluor 647-A"}, "x2": {"field": "hi"}, "y": {"field": "lvl", "type": "quantitative", "title": "Count"}}},
    {"mark": "rule", "encoding": {"x": {"field": "lo", "type": "quantitative", "title": "Alexa Fluor 647-A"}, "y": {"field": "bot", "type": "quantitative", "title": "Count"}, "y2": {"field": "top"}}},
    {"mark": "rule", "encoding": {"x": {"field": "hi", "type": "quantitative", "title": "Alexa Fluor 647-A"}, "y": {"field": "bot", "type": "quantitative", "title": "Count"}, "y2": {"field": "top"}}},
    {"mark": {"type": "text", "align": "left"}, "encoding": {"x": {"field": "xl", "type": "quantitative", "title": "Alexa Fluor 647-A"}, "y": {"field": "ty", "type": "quantitative", "title": "Count"}, "text": {"field": "pct"}}},
    {"mark": {"type": "text", "align": "right"}, "encoding": {"x": {"field": "xr", "type": "quantitative", "title": "Alexa Fluor 647-A"}, "y": {"field": "ty", "type": "quantitative", "title": "Count"}, "text": {"field": "name"}}}
   ]}
  ]}
 ], "spacing": 12}
]
}
